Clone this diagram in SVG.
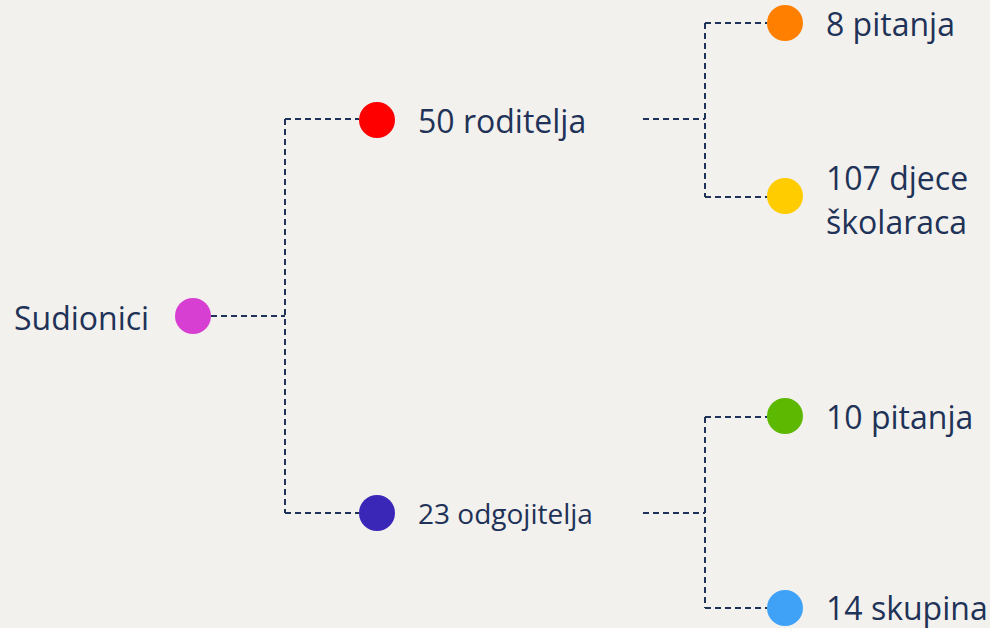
<svg xmlns="http://www.w3.org/2000/svg" width="990" height="628" viewBox="0 0 990 628">
<style>
.bg{fill:#F2F1EE}
.lnk{fill:none;stroke:#1F3257;stroke-width:2;stroke-dasharray:6 4}
.lbl{font-family:"Open Sans","Noto Sans",sans-serif;font-size:32px;fill:#1F3257}
.sm{font-size:28px}
</style>
<rect class="bg" x="0" y="0" width="990" height="628"/>
<g id="connectors">
<path class="lnk" d="M211 316 H285 M285 119 V513 M285 119 H359 M285 513 H359"/>
<path class="lnk" d="M643 119 H705 M705 23 V197 M705 23 H767 M705 197 H767"/>
<path class="lnk" d="M643 513 H705 M705 417 V608 M705 417 H767 M705 608 H767"/>
</g>
<g id="sudionici">
<circle cx="193" cy="316" r="18" fill="#D63FD1"/>
<text class="lbl" x="14" y="330">Sudionici</text>
</g>
<g id="roditelja">
<circle cx="377" cy="120" r="18" fill="#FF0000"/>
<text class="lbl" x="418" y="133">50 roditelja</text>
</g>
<g id="odgojitelja">
<circle cx="377" cy="513" r="18" fill="#3A27B8"/>
<text class="lbl sm" x="418" y="524">23 odgojitelja</text>
</g>
<g id="pitanja8">
<circle cx="785" cy="23" r="18" fill="#FF8000"/>
<text class="lbl" x="826" y="36">8 pitanja</text>
</g>
<g id="djece">
<circle cx="785" cy="196" r="18" fill="#FFCC00"/>
<text class="lbl" x="826" y="190">107 djece</text>
<text class="lbl" x="826" y="234">školaraca</text>
</g>
<g id="pitanja10">
<circle cx="785" cy="416" r="18" fill="#5CB800"/>
<text class="lbl" x="826" y="429">10 pitanja</text>
</g>
<g id="skupina">
<circle cx="785" cy="608" r="18" fill="#3FA2F7"/>
<text class="lbl" x="826" y="620">14 skupina</text>
</g>
</svg>
